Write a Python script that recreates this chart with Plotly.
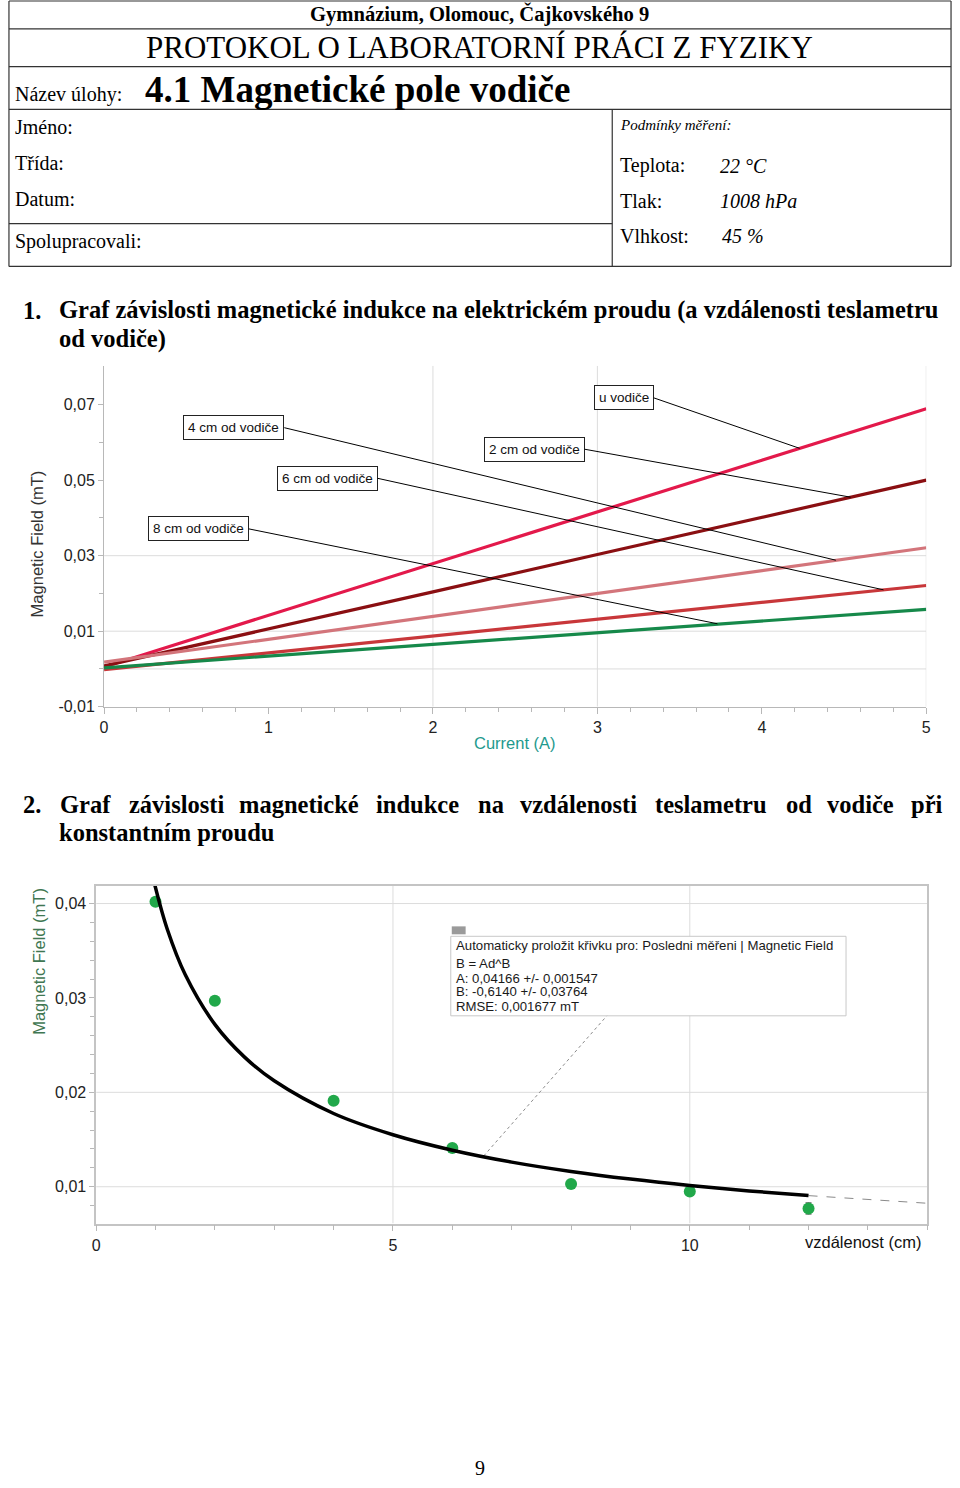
import numpy as np
import plotly.graph_objects as go

W, H = 960, 1488


def px(x):
    return x / W


def py(y):
    return 1 - y / H


# ---------------- Chart 1 data: B (mT) vs current (A) ----------------
current = [0, 1, 2, 3, 4, 5]
b_u_vodice = [0.0005, 0.0142, 0.0279, 0.0418, 0.0553, 0.0689]
b_2cm = [0.0008, 0.0105, 0.0204, 0.0303, 0.0402, 0.0500]
b_4cm = [0.0018, 0.0079, 0.0139, 0.0200, 0.0261, 0.0321]
b_6cm = [-0.0002, 0.0043, 0.0088, 0.0132, 0.0177, 0.0221]
b_8cm = [0.0003, 0.0034, 0.0066, 0.0097, 0.0128, 0.0158]
series_labels = ["u vodiče", "2 cm od vodiče", "4 cm od vodiče", "6 cm od vodiče", "8 cm od vodiče"]
series_values = [b_u_vodice, b_2cm, b_4cm, b_6cm, b_8cm]
series_colors = ["#e3194b", "#8a0f12", "#d3757b", "#c8373a", "#16894a"]
# where each label's leader line touches its series (current, A)
label_hit_x = [4.23, 4.54, 4.45, 4.74, 3.73]
# label boxes (right edge in A, centre in mT)
label_box_x = [3.343, 2.922, 1.096, 1.663, 0.880]
label_box_y = [0.0718, 0.0582, 0.0639, 0.0505, 0.0371]
y1_ticks = [-0.01, 0.01, 0.03, 0.05, 0.07]
y1_ticktext = ["-0,01", "0,01", "0,03", "0,05", "0,07"]

# ---------------- Chart 2 data: B (mT) vs distance (cm) ----------------
distance = [1, 2, 4, 6, 8, 10, 12]
b_measured = [0.0402, 0.0297, 0.0191, 0.0141, 0.0103, 0.0095, 0.0077]
b_err = [0, 0, 0, 0, 0, 0, 0.0006]
fit_d = [0.98, 1.2, 1.5, 2, 2.5, 3, 4, 5, 6, 7, 8, 9, 10, 11, 12]
fit_b = [0.04218, 0.03725, 0.03248, 0.02720, 0.02373, 0.02122, 0.01776, 0.01551,
         0.01387, 0.01261, 0.01162, 0.01081, 0.01013, 0.00956, 0.00906]
ext_d = [12, 13, 14]
ext_b = [0.00906, 0.00862, 0.00825]
y2_ticks = [0.01, 0.02, 0.03, 0.04]
y2_ticktext = ["0,01", "0,02", "0,03", "0,04"]
fit_text = [
    "Automaticky proložit křivku pro: Posledni měřeni | Magnetic Field",
    "B = Ad^B",
    "A: 0,04166 +/- 0,001547",
    "B: -0,6140 +/- 0,03764",
    "RMSE: 0,001677 mT",
]

SERIF = "Liberation Serif, Times New Roman, serif"
SANS = "Liberation Sans, Arial, sans-serif"
GRID = "#dcdcdc"
AXIS = "#b8b8b8"

fig = go.Figure()

for name, vals, col in zip(series_labels, series_values, series_colors):
    fig.add_trace(go.Scatter(x=current, y=vals, mode="lines", name=name,
                             line=dict(color=col, width=3.2),
                             xaxis="x", yaxis="y", showlegend=False))

fig.add_trace(go.Scatter(x=ext_d, y=ext_b, mode="lines",
                         line=dict(color="#8a8a8a", width=1, dash="dash"),
                         xaxis="x2", yaxis="y2", showlegend=False))
fig.add_trace(go.Scatter(x=distance, y=b_measured, mode="markers",
                         marker=dict(color="#21a84a", size=12),
                         error_y=dict(type="data", array=b_err, visible=True,
                                      color="#555555", thickness=1, width=3),
                         xaxis="x2", yaxis="y2", showlegend=False))
fig.add_trace(go.Scatter(x=fit_d, y=fit_b, mode="lines", line_shape="spline",
                         line=dict(color="black", width=3.5),
                         xaxis="x2", yaxis="y2", showlegend=False, cliponaxis=True))

shapes = []
annotations = []


def line(x0, y0, x1, y1, color="#333333", width=1.2, dash="solid", xref="paper", yref="paper"):
    shapes.append(dict(type="line", x0=x0, y0=y0, x1=x1, y1=y1, xref=xref, yref=yref,
                       line=dict(color=color, width=width, dash=dash), layer="below"))


def text(x, y, t, size, family=SERIF, color="black", xanchor="left", yanchor="middle", **kw):
    annotations.append(dict(x=px(x), y=py(y), xref="paper", yref="paper", text=t,
                            showarrow=False, xanchor=xanchor, yanchor=yanchor,
                            font=dict(family=family, size=size, color=color), **kw))


# ---------------- header table ----------------
for (x0, y0, x1, y1) in [(5, 1, 956, 1), (5, 268, 956, 268), (5, 1, 5, 268), (956, 1, 956, 268),
                         (5, 29, 956, 29), (5, 67, 956, 67), (5, 110, 956, 110),
                         (614, 110, 614, 268), (5, 225, 614, 225)]:
    line(px(x0), py(y0), px(x1), py(y1))

text(480, 14, "<b>Gymnázium, Olomouc, Čajkovského 9</b>", 20.6, xanchor="center")
text(480, 48, "PROTOKOL O LABORATORNÍ PRÁCI Z FYZIKY", 31, xanchor="center")
text(9, 95, "Název úlohy:", 20)
text(140, 90, "<b>4.1 Magnetické pole vodiče</b>", 37)
text(9, 128, "Jméno:", 20)
text(9, 164, "Třída:", 20)
text(9, 200, "Datum:", 20)
text(9, 243, "Spolupracovali:", 20)
text(620, 126, "<i>Podmínky měření:</i>", 15)
text(620, 167, "Teplota:", 20)
text(721, 167, "<i>22 °C</i>", 20)
text(620, 202, "Tlak:", 20)
text(721, 202, "<i>1008 hPa</i>", 20)
text(620, 237, "Vlhkost:", 20)
text(723, 237, "<i>45 %</i>", 20)

# ---------------- section headings ----------------
HS = 24.5
text(17, 312, "<b>1.</b>", HS)
text(54, 312, "<b>Graf závislosti magnetické indukce na elektrickém proudu (a vzdálenosti teslametru</b>", HS)
text(54, 341, "<b>od vodiče)</b>", HS)
text(17, 809, "<b>2.</b>", HS)
words2 = ["Graf", "závislosti", "magnetické", "indukce", "na", "vzdálenosti", "teslametru", "od", "vodiče", "při"]
words2_x = [55, 124, 235, 373, 476, 519, 655, 787, 829, 914]
for wd, wx in zip(words2, words2_x):
    text(wx, 809, "<b>%s</b>" % wd, HS)
text(54, 838, "<b>konstantním proudu</b>", HS)
text(480, 1477, "9", 20, xanchor="center")

# ---------------- chart 1 decorations ----------------
for gy in [0.03, 0.01, 0.0]:
    line(0, gy, 5, gy, color=GRID, width=1, xref="x", yref="y")
for gx in [2, 3, 5]:
    line(gx, -0.01, gx, 0.0803, color=GRID, width=1, xref="x", yref="y")

for lab, vals, hx, bx, by in zip(series_labels, series_values, label_hit_x, label_box_x, label_box_y):
    hy = float(np.interp(hx, current, vals))
    annotations.append(dict(x=hx, y=hy, xref="x", yref="y", ax=bx, ay=by, axref="x", ayref="y",
                            text=lab, showarrow=True, arrowhead=0, arrowwidth=1, arrowcolor="black",
                            xanchor="right", yanchor="middle",
                            bordercolor="#222222", borderwidth=1, borderpad=4, bgcolor="white",
                            font=dict(family=SANS, size=13.5, color="#111111")))

annotations.append(dict(x=px(33), y=py(547), xref="paper", yref="paper", text="Magnetic Field (mT)",
                        textangle=-90, showarrow=False, xanchor="center", yanchor="middle",
                        font=dict(family=SANS, size=16.5, color="#333333")))
text(516, 748, "Current (A)", 16.5, family=SANS, color="#1f9a8e", xanchor="center")

# ---------------- chart 2 decorations ----------------
for gy in [0.04, 0.02, 0.01]:
    line(0, gy, 14, gy, color=GRID, width=1, xref="x2", yref="y2")
for gx in [5, 10]:
    line(gx, 0.0061, gx, 0.0419, color=GRID, width=1, xref="x2", yref="y2")
# leader from fit box to curve
line(8.63, 0.0283, 6.52, 0.0132, color="#8a8a8a", width=1, dash="dot", xref="x2", yref="y2")
shapes.append(dict(type="rect", x0=px(451), y0=py(942), x1=px(850), y1=py(1022), xref="paper", yref="paper",
                   line=dict(color="#c8c8c8", width=1), fillcolor="white", layer="above"))
shapes.append(dict(type="rect", x0=px(452), y0=py(932), x1=px(466), y1=py(940), xref="paper", yref="paper",
                   line=dict(width=0), fillcolor="#9a9a9a", layer="above"))
for t, yy in zip(fit_text, [951, 969, 984, 998, 1013]):
    text(454, yy, t, 13.2, family=SANS, color="#1a1a1a")

annotations.append(dict(x=px(35), y=py(967), xref="paper", yref="paper", text="Magnetic Field (mT)",
                        textangle=-90, showarrow=False, xanchor="center", yanchor="middle",
                        font=dict(family=SANS, size=16.5, color="#3f7752")))
text(928, 1250, "vzdálenost (cm)", 16.5, family=SANS, color="#111111", xanchor="right")

tickfont = dict(family=SANS, size=16, color="#222222")

fig.update_layout(
    width=W, height=H, autosize=False,
    margin=dict(l=0, r=0, t=0, b=0),
    paper_bgcolor="white", plot_bgcolor="rgba(0,0,0,0)",
    showlegend=False,
    shapes=shapes, annotations=annotations,
    xaxis=dict(domain=[px(101), px(931)], anchor="y", range=[0, 5], tickvals=[0, 1, 2, 3, 4, 5],
               showgrid=False, zeroline=False, showline=True, linecolor=AXIS, linewidth=1,
               ticks="outside", ticklen=6, tickcolor=AXIS, tickfont=tickfont,
               minor=dict(dtick=0.2, ticks="outside", ticklen=4, tickcolor=AXIS)),
    yaxis=dict(domain=[py(711), py(368)], anchor="x", range=[-0.01, 0.0803],
               tickvals=y1_ticks, ticktext=y1_ticktext,
               showgrid=False, zeroline=False, showline=True, linecolor=AXIS, linewidth=1,
               ticks="outside", ticklen=5, tickcolor=AXIS, tickfont=tickfont,
               minor=dict(tickvals=[0.0, 0.02, 0.04, 0.06], ticks="outside", ticklen=4, tickcolor=AXIS)),
    xaxis2=dict(domain=[px(93), px(932)], anchor="y2", range=[0, 14], tickvals=[0, 5, 10],
                showgrid=False, zeroline=False, showline=True, mirror=True, linecolor="#c4c4c4", linewidth=1.5,
                ticks="outside", ticklen=6, tickcolor=AXIS, tickfont=tickfont,
                minor=dict(dtick=1, ticks="outside", ticklen=5, tickcolor=AXIS)),
    yaxis2=dict(domain=[py(1231), py(891)], anchor="x2", range=[0.0061, 0.0419],
                tickvals=y2_ticks, ticktext=y2_ticktext,
                showgrid=False, zeroline=False, showline=True, mirror=True, linecolor="#c4c4c4", linewidth=1.5,
                ticks="outside", ticklen=5, tickcolor=AXIS, tickfont=tickfont,
                minor=dict(dtick=0.002, ticks="outside", ticklen=4, tickcolor=AXIS)),
)

page_fix = (
    "var css='margin:0;padding:0;overflow:hidden;';"
    "document.documentElement.style.cssText=css;"
    "document.body.style.cssText=css;"
    "var gd=document.getElementById('{plot_id}');"
    "gd.style.display='block';"
    "if(gd.parentNode&&gd.parentNode!==document.body){gd.parentNode.style.cssText='display:block;margin:0;padding:0;';}"
)

fig.write_html("out.html", config={"displayModeBar": False}, post_script=page_fix)
